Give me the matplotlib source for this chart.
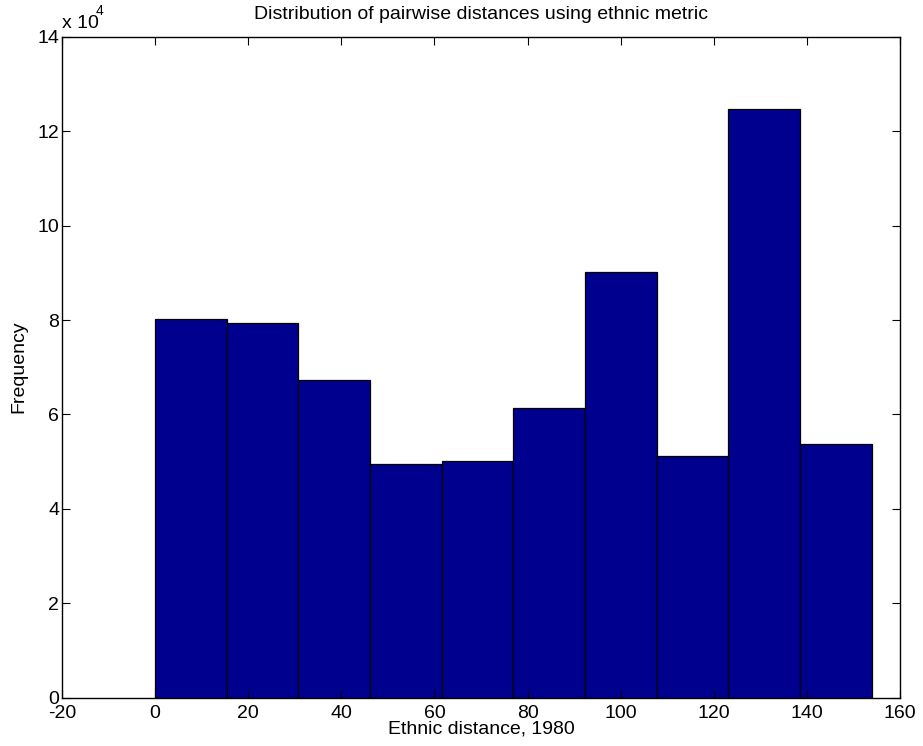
import numpy as np
import matplotlib.pyplot as plt

plt.rcParams['font.family'] = ['Liberation Sans', 'DejaVu Sans']
plt.rcParams['axes.unicode_minus'] = False

# histogram of ethnic distances (counts per bin)
dist_min = 0.0
dist_max = 153.9
n_bins = 10
counts = [80300, 79400, 67300, 49400, 50100, 61300, 90200, 51300, 124700, 53700]

edges = np.linspace(dist_min, dist_max, n_bins + 1)
centers = (edges[:-1] + edges[1:]) / 2
scale = 1e4

fig = plt.figure(figsize=(9.23, 7.46), dpi=100)
ax = fig.add_axes([0.0672, 0.0647, 0.9078, 0.8861])

ax.hist(centers, bins=edges, weights=np.array(counts) / scale,
        color='#00008F', edgecolor='k', linewidth=0.9)

ax.set_xlim(-20, 160)
ax.set_ylim(0, 14)
ax.set_xticks(np.arange(-20, 161, 20))
ax.set_yticks(np.arange(0, 15, 2))
ax.tick_params(direction='in', top=True, right=True, length=6, width=0.8,
               labelsize=14)
ax.tick_params(axis='x', pad=5.5)
ax.tick_params(axis='y', pad=2)
for s in ax.spines.values():
    s.set_linewidth(1.0)

ax.set_title('Distribution of pairwise distances using ethnic metric', fontsize=14, pad=13)
ax.set_xlabel('Ethnic distance, 1980', fontsize=14, labelpad=-1)
ax.set_ylabel('Frequency', fontsize=14, labelpad=7)

# exponent marker for the y axis
fig.text(0.0672, 0.9625, 'x 10', fontsize=14, va='baseline', ha='left')
fig.text(0.104, 0.98, '4', fontsize=10, va='baseline', ha='left')

fig.savefig('out.png', dpi=100)
